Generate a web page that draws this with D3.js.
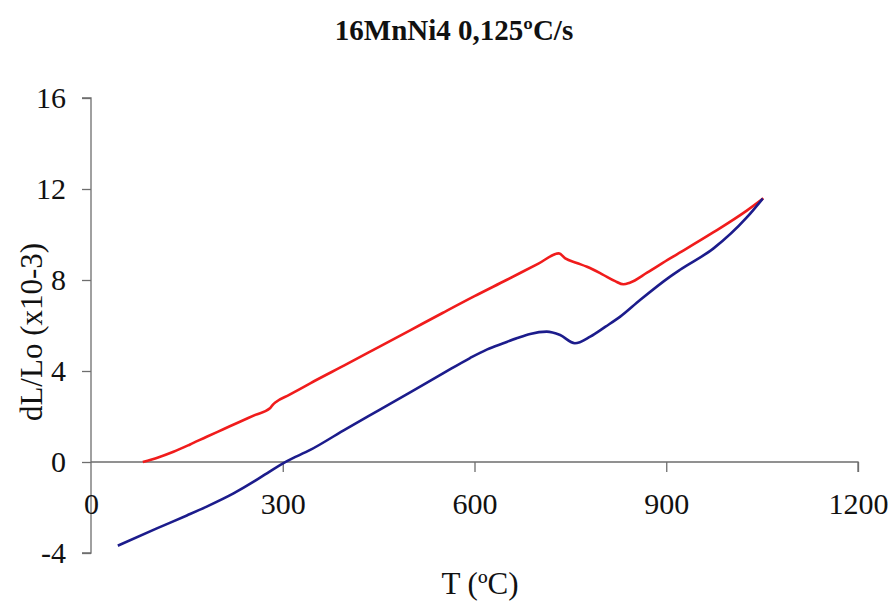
<!DOCTYPE html>
<html><head><meta charset="utf-8">
<script src="https://cdn.jsdelivr.net/npm/d3@7"></script>
<style>body{margin:0;background:#fff}svg{display:block}</style>
</head><body>
<svg id="c" width="892" height="602"></svg>
<script>
const title = "16MnNi4 0,125ºC/s";
const xLabel = "T (ºC)";
const yLabel = "dL/Lo (x10-3)";
const xTicks = [0, 300, 600, 900, 1200];
const yTicks = [-4, 0, 4, 8, 12, 16];

const redT = [81, 105, 129, 155, 181, 207, 233, 257, 280, 284, 290, 310, 343, 400, 450, 500, 550, 600, 650, 700, 732, 742, 760, 776, 800, 820, 833, 843, 870, 906, 921, 974, 1026, 1052];
const redV = [0, 0.2, 0.45, 0.77, 1.11, 1.44, 1.77, 2.07, 2.36, 2.5, 2.65, 2.95, 3.46, 4.3, 5.05, 5.8, 6.55, 7.29, 8.0, 8.72, 9.17, 8.95, 8.75, 8.58, 8.25, 7.95, 7.81, 7.88, 8.32, 8.95, 9.2, 10.1, 11.05, 11.59];

const blueT = [42, 103, 150, 181, 223, 259, 285, 306, 343, 400, 450, 500, 550, 593, 620, 645, 667, 687, 713, 734, 757, 781, 805, 828, 859, 906, 921, 974, 1026, 1051];
const blueV = [-3.68, -2.92, -2.35, -1.96, -1.38, -0.79, -0.32, 0.03, 0.53, 1.47, 2.27, 3.07, 3.88, 4.57, 4.95, 5.22, 5.45, 5.63, 5.73, 5.58, 5.22, 5.51, 5.95, 6.39, 7.12, 8.15, 8.44, 9.39, 10.75, 11.58];

const svg = d3.select("#c");
const x = d3.scaleLinear().domain([0, 1200]).range([91, 858]);
const y = d3.scaleLinear().domain([-4, 16]).range([553, 98]);
const axisColor = "#6e6e6e";
const font = "'Liberation Serif','Times New Roman',serif";

svg.append("text").attr("x", 454).attr("y", 40).attr("text-anchor", "middle")
  .attr("font-family", font).attr("font-weight", "bold").attr("font-size", 29)
  .attr("fill", "#111").text(title);

// Y axis
const yAxis = svg.append("g").attr("transform", `translate(${x(0)},0)`)
  .call(d3.axisLeft(y).tickValues(yTicks).tickSize(9).tickPadding(16).tickFormat(d => String(d)));
// X axis at y=0
const xAxis = svg.append("g").attr("transform", `translate(0,${y(0)})`)
  .call(d3.axisBottom(x).tickValues(xTicks).tickSize(10).tickPadding(21).tickFormat(d => String(d)));

[yAxis, xAxis].forEach(g => {
  g.select(".domain").attr("stroke", axisColor).attr("stroke-width", 1.3);
  g.selectAll(".tick line").attr("stroke", axisColor).attr("stroke-width", 1.3);
  g.selectAll(".tick text").attr("font-family", font).attr("font-size", 30).attr("fill", "#111");
});
yAxis.select(".domain").attr("d", `M-9,${y(16)}H0V${y(-4)}H-9`);
xAxis.select(".domain").attr("d", `M${x(0)},0H${x(1200)}V10`);
xAxis.selectAll(".tick").filter(d => d === 0).select("line").remove();

svg.append("text").attr("x", 480).attr("y", 594).attr("text-anchor", "middle")
  .attr("font-family", font).attr("font-size", 31).attr("fill", "#111").text(xLabel);
svg.append("text").attr("transform", "translate(42,332) rotate(-90)").attr("text-anchor", "middle")
  .attr("font-family", font).attr("font-size", 31).attr("fill", "#111").text(yLabel);

const line = d3.line().x(d => x(d[0])).y(d => y(d[1])).curve(d3.curveMonotoneX);
svg.append("path").datum(redT.map((t, i) => [t, redV[i]])).attr("d", line)
  .attr("fill", "none").attr("stroke", "#f01c1c").attr("stroke-width", 2.6).attr("stroke-linejoin", "round");
svg.append("path").datum(blueT.map((t, i) => [t, blueV[i]])).attr("d", line)
  .attr("fill", "none").attr("stroke", "#1c1c8c").attr("stroke-width", 2.6).attr("stroke-linejoin", "round");
</script>
</body></html>
